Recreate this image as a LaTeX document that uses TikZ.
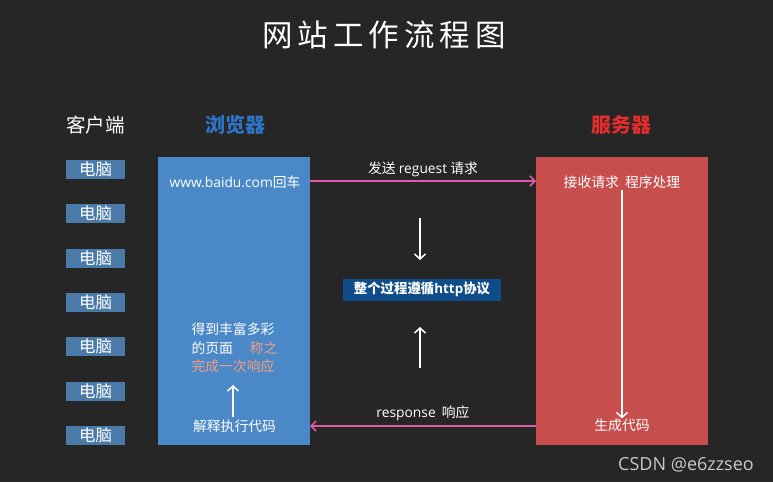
\documentclass[tikz,border=0pt]{standalone}
\usepackage{fontspec}
\setmainfont{Noto Sans CJK SC}
\newfontfamily\latinf{Open Sans}
\usetikzlibrary{arrows.meta}
\definecolor{bg}{HTML}{262626}
\definecolor{pcblue}{HTML}{4A7AA8}
\definecolor{brblue}{HTML}{4A88C7}
\definecolor{srred}{HTML}{C84E4E}
\definecolor{pinkarr}{HTML}{E05AA8}
\definecolor{hdblue}{HTML}{2E75C9}
\definecolor{hdred}{HTML}{E52C2C}
\definecolor{httpbox}{HTML}{0E4C8A}
\definecolor{salmon}{HTML}{F0A080}
\tikzset{
  pcbox/.style={fill=pcblue, text=white, minimum width=59pt, minimum height=19pt, inner sep=0pt, font=\fontsize{16.5}{18}\selectfont},
  txt/.style={text=white, inner sep=0pt, font=\fontsize{13.8}{18.5}\selectfont},
  hdr/.style={inner sep=0pt, font=\fontsize{20}{22}\selectfont\bfseries},
  pinkline/.style={draw=pinkarr, line width=1.5pt, -{Straight Barb[length=5pt,width=10pt]}},
  whitearr/.style={draw=white, line width=1.5pt, -{Straight Barb[length=5pt,width=11pt]}}
}
\begin{document}
\begin{tikzpicture}[x=1pt,y=-1pt]
\fill[bg] (0,0) rectangle (773,482);
\useasboundingbox (0,0) rectangle (773,482);
\node[text=white, inner sep=0pt, font=\fontsize{30.5}{32}\selectfont] (title) at (384,35) {网\,站\,工\,作\,流\,程\,图};
\node[hdr, text=white, font=\fontsize{19.5}{22}\selectfont] (client) at (95.5,125) {客户端};
\node[hdr, text=hdblue] (browser) at (235,125) {浏览器};
\node[hdr, text=hdred] (server) at (621,125) {服务器};
\foreach \i/\y in {1/169,2/213,3/258,4/302,5/346,6/391,7/435}{
  \node[pcbox] (pc\i) at (95.5,\y) {电脑};
}
\node[fill=brblue, minimum width=152pt, minimum height=288pt, inner sep=0pt, anchor=north west] (brect) at (158,157) {};
\node[fill=srred, minimum width=172pt, minimum height=288pt, inner sep=0pt, anchor=north west] (srect) at (536,157) {};
\node[txt] (url) at (235,182) {{\latinf www.baidu.com}回车};
\node[txt, align=left] (page) at (234.5,348) {得到丰富多彩\\的页面\quad\ \textcolor{salmon}{称之}\\\textcolor{salmon}{完成一次响应}};
\node[txt] (exec) at (234.5,426) {解释执行代码};
\node[txt] (recv) at (622,182) {接收请求\ \ 程序处理};
\node[txt] (gen) at (622,425) {生成代码};
\coordinate (reqs) at (310,181);
\coordinate (reqe) at (536,181);
\coordinate (ress) at (536,426);
\coordinate (rese) at (310,426);
\draw[pinkline] (reqs) -- (reqe) node[midway, above=3pt, txt] (reqlbl) {发送 {\latinf reguest} 请求};
\draw[pinkline] (ress) -- (rese) node[midway, above=4pt, txt] (reslbl) {{\latinf response}\ \ 响应};
\node[fill=httpbox, text=white, minimum width=158pt, minimum height=22pt, inner sep=0pt, font=\fontsize{13.4}{15}\selectfont\bfseries] (http) at (422,289.5) {整个过程遵循{\latinf http}协议};
\coordinate (d1) at (420,218);
\coordinate (d2) at (420,260);
\draw[whitearr] (d1) -- (d2);
\coordinate (u1) at (420,368);
\coordinate (u2) at (420,327);
\draw[whitearr] (u1) -- (u2);
\draw[whitearr] (exec.north -| 233,0) ++(0,-2) -- (233,385);
\coordinate (sv1) at (622,190);
\draw[whitearr] (sv1) -- (gen.north -| 622,0);
\node[text=white!75!bg, inner sep=0pt, font=\latinf\fontsize{18}{20}\selectfont] (wm) at (686,465) {CSDN @e6zzseo};
\end{tikzpicture}
\end{document}
